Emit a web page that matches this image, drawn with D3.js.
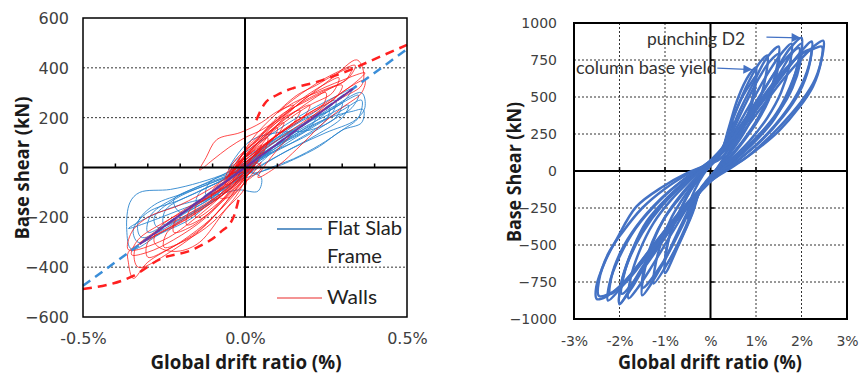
<!DOCTYPE html>
<html><head><meta charset="utf-8">
<script src="https://cdn.jsdelivr.net/npm/d3@7"></script>
<style>body{margin:0;background:#fff}svg{display:block}</style>
</head><body>
<svg id="c" width="859" height="376"></svg>
<script>
// ---------- LEFT PANEL DATA ----------
const leftXTicks = [-0.5, 0, 0.5];
const leftXLabels = ["-0.5%", "0.0%", "0.5%"];
const leftXMinor = [-0.4, -0.3, -0.2, -0.1, 0.1, 0.2, 0.3, 0.4];
const leftYTicks = [600, 400, 200, 0, -200, -400, -600];
const leftGrid = [400, 200, -200, -400];

// Flat slab frame hysteresis loops [drift %, shear kN]
const flatSlabLoops = [
  [[-0.35,-328],[-0.365,-250],[-0.355,-140],[-0.325,-100],[-0.23,-88],[-0.14,-60],[-0.05,-20],[0.02,20],[-0.01,-30],[-0.08,-100],[-0.16,-200],[-0.26,-265]],
  [[0.36,300],[0.37,240],[0.34,190],[0.25,140],[0.15,80],[0.05,10],[-0.02,-40],[0.0,0],[0.08,90],[0.18,170],[0.28,250]],
  [[0.365,232],[0.36,180],[0.3,150],[0.23,85],[0.15,32],[0.1,5],[0.02,-20],[0.05,40],[0.15,130],[0.26,200],[0.33,225]],
  [[0.33,315],[0.3,260],[0.2,190],[0.1,120],[0.0,40],[-0.05,0],[0.0,60],[0.1,150],[0.2,230],[0.28,285]],
  [[-0.33,-300],[-0.345,-250],[-0.3,-180],[-0.2,-130],[-0.1,-70],[0.0,0],[0.05,50],[0.02,0],[-0.08,-120],[-0.18,-200],[-0.27,-270]],
  [[-0.3,-260],[-0.29,-190],[-0.2,-110],[-0.1,-50],[0.0,20],[0.05,60],[0.0,-20],[-0.1,-110],[-0.2,-190]],
  [[-0.25,-230],[-0.245,-170],[-0.15,-100],[-0.05,-40],[0.03,30],[0.0,-10],[-0.1,-120],[-0.18,-180]],
  [[0.28,270],[0.27,220],[0.2,160],[0.1,90],[0.0,20],[-0.04,-30],[0.02,40],[0.1,130],[0.2,210]],
  [[0.22,210],[0.2,160],[0.12,100],[0.04,30],[-0.02,-20],[0.04,60],[0.12,140],[0.18,190]],
  [[0.15,150],[0.13,110],[0.06,50],[0.0,0],[-0.04,-40],[0.0,20],[0.08,100]],
  [[-0.15,-140],[-0.14,-100],[-0.07,-50],[0.0,10],[0.04,40],[0.0,-20],[-0.08,-100]],
  [[-0.2,-180],[-0.22,-130],[-0.15,-80],[-0.05,-30],[0.05,40],[0.08,70],[0.03,20],[-0.06,-80],[-0.14,-150]],
  [[0.3,260],[0.28,200],[0.2,150],[0.1,140],[0.02,110],[-0.03,40],[-0.05,-10],[0.0,20],[0.1,90],[0.2,170]],
  [[0.36,270],[0.35,200],[0.3,150],[0.23,90],[0.15,35],[0.08,0],[0.0,-40],[0.03,10],[0.12,90],[0.22,170],[0.3,230]],
  [[0.04,-95],[-0.02,-90],[-0.1,-110],[-0.06,-60],[0.0,-20],[0.05,-40]],
  [[-0.36,-245],[-0.3,-220],[-0.2,-170],[-0.1,-120],[-0.2,-150],[-0.3,-200]],
  [[0.32,250],[0.3,200],[0.22,130],[0.12,60],[0.03,-10],[-0.03,-60],[0.0,0],[0.08,80],[0.18,160],[0.27,220]],
  [[-0.32,-280],[-0.33,-220],[-0.28,-150],[-0.18,-100],[-0.08,-50],[0.02,10],[-0.02,-40],[-0.1,-130],[-0.2,-210]],
  [[-0.27,-240],[-0.28,-200],[-0.22,-130],[-0.12,-70],[-0.02,-20],[0.03,20],[-0.05,-90],[-0.15,-170]],
  [[0.26,240],[0.25,190],[0.16,110],[0.06,40],[-0.02,-30],[0.02,30],[0.1,110],[0.2,190]],
  [[-0.12,-110],[-0.11,-60],[-0.04,-20],[0.04,30],[0.08,60],[0.03,0],[-0.05,-70]],
  [[0.35,290],[0.33,240],[0.27,190],[0.18,120],[0.08,60],[0.0,0],[0.04,60],[0.14,140],[0.25,220]]
];

// Walls hysteresis loops [drift %, shear kN]
const wallLoops = [
  [[0.345,432],[0.365,390],[0.36,330],[0.3,280],[0.2,200],[0.1,110],[0.0,20],[-0.05,-40],[0.0,40],[0.08,160],[0.18,270],[0.27,360]],
  [[0.37,380],[0.33,330],[0.25,260],[0.15,180],[0.05,80],[0.0,0],[0.05,90],[0.12,200],[0.2,290],[0.3,350]],
  [[0.3,330],[0.28,280],[0.2,220],[0.1,130],[0.0,40],[-0.05,-20],[0.0,60],[0.1,190],[0.2,280]],
  [[0.25,300],[0.24,250],[0.15,180],[0.05,80],[-0.03,0],[0.02,80],[0.1,200],[0.18,260]],
  [[0.15,250],[0.12,210],[0.05,150],[0.0,120],[-0.05,80],[-0.1,30],[-0.14,-10],[-0.12,40],[-0.087,112],[-0.015,140],[0.05,180],[0.1,225]],
  [[-0.345,-445],[-0.36,-380],[-0.36,-340],[-0.3,-290],[-0.2,-220],[-0.1,-140],[0.0,-40],[0.05,20],[0.0,-60],[-0.1,-200],[-0.2,-300],[-0.3,-380]],
  [[-0.35,-350],[-0.33,-290],[-0.25,-220],[-0.15,-150],[-0.05,-70],[0.02,0],[-0.02,-60],[-0.12,-200],[-0.22,-290],[-0.3,-340]],
  [[-0.28,-300],[-0.27,-250],[-0.2,-180],[-0.1,-100],[0.0,-20],[0.0,-80],[-0.06,-170],[-0.14,-300],[-0.2,-335],[-0.25,-330]],
  [[-0.22,-260],[-0.21,-200],[-0.14,-140],[-0.05,-60],[0.02,20],[-0.02,-50],[-0.1,-170],[-0.17,-240]],
  [[-0.15,-200],[-0.15,-150],[-0.08,-90],[0.0,-10],[0.04,30],[0.0,-40],[-0.08,-140]],
  [[0.2,250],[0.18,200],[0.1,130],[0.02,40],[-0.04,-30],[0.0,40],[0.08,150],[0.15,220]],
  [[0.1,160],[0.09,120],[0.04,60],[-0.02,-10],[-0.06,-60],[-0.02,20],[0.05,110]],
  [[-0.1,-130],[-0.1,-90],[-0.04,-40],[0.02,20],[0.05,60],[0.01,0],[-0.05,-90]],
  [[0.33,400],[0.31,350],[0.26,320],[0.2,290],[0.15,260],[0.1,220],[0.16,290],[0.22,330],[0.28,375]],
  [[0.37,350],[0.36,300],[0.3,240],[0.23,165],[0.19,112],[0.1,5],[0.04,-40],[0.08,40],[0.15,140],[0.25,250],[0.32,320]],
  [[-0.36,-330],[-0.35,-260],[-0.3,-200],[-0.2,-150],[-0.1,-80],[-0.03,-20],[-0.05,-80],[-0.15,-200],[-0.25,-290]],
  [[0.05,90],[0.03,40],[-0.01,0],[-0.05,-50],[-0.03,0],[0.01,50]],
  [[-0.06,-70],[-0.05,-30],[0.0,20],[0.06,70],[0.04,30],[0.0,-20]],
  [[0.34,410],[0.32,360],[0.24,300],[0.14,210],[0.04,100],[-0.02,20],[0.02,110],[0.1,220],[0.2,320],[0.28,380]],
  [[0.29,360],[0.27,300],[0.2,250],[0.12,180],[0.03,80],[-0.03,0],[0.0,70],[0.08,170],[0.17,270],[0.24,330]],
  [[-0.33,-400],[-0.34,-330],[-0.28,-260],[-0.18,-190],[-0.08,-110],[0.0,-30],[-0.03,-90],[-0.12,-230],[-0.22,-330]],
  [[-0.3,-360],[-0.3,-300],[-0.22,-230],[-0.12,-150],[-0.02,-50],[0.03,10],[-0.04,-110],[-0.14,-250],[-0.24,-330]],
  [[-0.25,-320],[-0.24,-260],[-0.17,-200],[-0.08,-120],[0.0,-40],[-0.02,-100],[-0.1,-220],[-0.18,-290]],
  [[0.17,230],[0.15,180],[0.08,110],[0.0,30],[-0.05,-30],[-0.01,50],[0.06,140],[0.12,200]],
  [[-0.18,-230],[-0.17,-170],[-0.1,-110],[-0.02,-40],[0.03,10],[-0.01,-60],[-0.09,-160],[-0.14,-210]],
  [[0.07,120],[0.06,70],[0.02,20],[-0.04,-40],[-0.08,-90],[-0.05,-30],[0.01,50]],
  [[0.12,180],[0.1,130],[0.05,80],[-0.01,20],[-0.06,-40],[-0.03,30],[0.04,110]],
  [[-0.04,-60],[-0.08,-120],[-0.05,-120],[0.0,-60],[0.05,0],[0.03,20]]
];

const wallEnvelopeUpper = [[0.035,190],[0.06,255],[0.1,292],[0.15,319],[0.21,339],[0.3,379],[0.417,445],[0.5,492]];
const wallEnvelopeLower = [[-0.5,-488],[-0.345,-435],[-0.262,-368],[-0.159,-328],[-0.077,-261],[-0.036,-201],[-0.02,-130]];
const frameTrend = [[-0.5,-475],[0.5,475]];
const frameFit = [[-0.325,-308],[0.333,316]];

// ---------- RIGHT PANEL DATA ----------
const rightXTicks = [-3, -2, -1, 0, 1, 2, 3];
const rightXLabels = ["-3%", "-2%", "-1%", "%", "1%", "2%", "3%"];
const rightYTicks = [1000, 750, 500, 250, 0, -250, -500, -750, -1000];
const rightGridX = [-2, -1, 1, 2];
const rightGridY = [750, 500, 250, -250, -500, -750];

const cyclicLoops = [
  [[0.5,330],[0.48,250],[0.35,130],[0.15,20],[-0.1,-70],[-0.3,-170],[-0.5,-320],[-0.48,-240],[-0.35,-130],[-0.15,-20],[0.1,70],[0.3,170]],
  [[1.0,700],[0.98,600],[0.88,440],[0.7,290],[0.45,140],[0.2,30],[0.0,-50],[-0.2,-110],[-0.4,-290],[-0.7,-500],[-1.0,-690],[-1.0,-600],[-0.9,-440],[-0.7,-290],[-0.45,-140],[-0.2,-30],[0.0,50],[0.2,100],[0.4,290],[0.6,490],[0.85,650]],
  [[1.0,640],[0.97,540],[0.85,390],[0.65,250],[0.4,120],[0.15,20],[-0.05,-60],[-0.25,-150],[-0.45,-320],[-0.75,-520],[-1.0,-640],[-0.98,-550],[-0.85,-390],[-0.65,-250],[-0.4,-110],[-0.15,-10],[0.05,60],[0.25,140],[0.45,320],[0.7,500],[0.9,600]],
  [[1.25,780],[1.22,650],[1.08,480],[0.85,320],[0.55,170],[0.25,50],[-0.05,-60],[-0.3,-180],[-0.55,-380],[-0.9,-600],[-1.25,-760],[-1.22,-650],[-1.08,-480],[-0.85,-310],[-0.55,-160],[-0.25,-40],[0.05,60],[0.3,180],[0.55,400],[0.85,610],[1.1,740]],
  [[1.5,840],[1.47,720],[1.3,530],[1.05,360],[0.7,200],[0.35,70],[0.0,-60],[-0.3,-160],[-0.6,-360],[-1.0,-600],[-1.3,-760],[-1.5,-840],[-1.48,-720],[-1.32,-530],[-1.05,-340],[-0.7,-190],[-0.35,-60],[0.0,60],[0.3,150],[0.6,380],[0.95,600],[1.25,770]],
  [[1.5,790],[1.46,660],[1.28,480],[1.0,320],[0.65,170],[0.3,40],[-0.05,-70],[-0.35,-190],[-0.7,-400],[-1.05,-620],[-1.5,-790],[-1.46,-660],[-1.28,-480],[-1.0,-310],[-0.65,-160],[-0.3,-40],[0.05,70],[0.35,190],[0.7,410],[1.05,620],[1.3,740]],
  [[1.78,860],[1.74,720],[1.55,530],[1.25,360],[0.85,200],[0.4,60],[0.0,-70],[-0.4,-200],[-0.85,-420],[-1.3,-650],[-1.6,-790],[-1.8,-860],[-1.76,-730],[-1.56,-540],[-1.25,-350],[-0.85,-190],[-0.4,-50],[0.0,70],[0.4,210],[0.85,440],[1.3,680],[1.6,810]],
  [[2.0,900],[1.96,760],[1.75,570],[1.45,390],[1.0,220],[0.5,70],[0.0,-60],[-0.4,-190],[-0.9,-400],[-1.4,-620],[-1.75,-800],[-2.0,-895],[-1.97,-770],[-1.78,-580],[-1.45,-380],[-1.0,-200],[-0.5,-60],[0.0,60],[0.4,190],[0.9,420],[1.4,660],[1.75,830]],
  [[1.95,830],[1.9,700],[1.7,520],[1.4,350],[0.95,190],[0.45,50],[-0.05,-80],[-0.5,-230],[-1.0,-450],[-1.45,-650],[-1.95,-830],[-1.9,-700],[-1.7,-520],[-1.4,-340],[-0.95,-180],[-0.45,-40],[0.05,80],[0.5,240],[1.0,460],[1.45,680],[1.75,790]],
  [[2.0,860],[1.97,730],[1.8,560],[1.5,400],[1.05,240],[0.55,90],[0.05,-40],[-0.45,-200],[-1.0,-430],[-1.5,-650],[-2.0,-900],[-1.98,-790],[-1.82,-620],[-1.5,-420],[-1.05,-230],[-0.55,-80],[-0.05,40],[0.45,180],[1.0,420],[1.5,650],[1.8,800]],
  [[2.22,875],[2.2,760],[2.0,580],[1.65,400],[1.15,220],[0.6,70],[0.0,-70],[-0.5,-220],[-1.1,-440],[-1.6,-640],[-2.0,-800],[-2.25,-875],[-2.22,-760],[-2.0,-580],[-1.65,-390],[-1.15,-210],[-0.6,-60],[0.0,70],[0.5,220],[1.1,450],[1.6,650],[2.0,810]],
  [[2.2,820],[2.16,700],[1.95,530],[1.6,370],[1.1,200],[0.55,60],[0.0,-60],[-0.5,-210],[-1.05,-420],[-1.55,-620],[-1.95,-770],[-2.2,-830],[-2.18,-720],[-1.98,-550],[-1.62,-370],[-1.1,-190],[-0.55,-50],[0.0,70],[0.55,230],[1.1,460],[1.6,660],[1.95,780]],
  [[2.48,880],[2.47,800],[2.3,620],[2.02,480],[1.52,300],[1.15,188],[0.71,74],[0.27,7],[0.0,-60],[-0.5,-230],[-1.0,-420],[-1.5,-610],[-2.0,-780],[-2.3,-850],[-2.5,-865],[-2.51,-782],[-2.3,-600],[-2.07,-466],[-1.63,-241],[-1.05,-106],[-0.53,-16],[-0.17,29],[0.2,80],[0.6,220],[1.1,420],[1.6,620],[2.0,760],[2.3,850]],
  [[2.45,840],[2.43,740],[2.25,570],[1.95,430],[1.5,270],[1.0,140],[0.5,30],[0.0,-70],[-0.5,-240],[-1.0,-430],[-1.5,-620],[-2.0,-790],[-2.45,-845],[-2.45,-740],[-2.25,-560],[-1.95,-420],[-1.5,-250],[-1.0,-120],[-0.5,-20],[0.0,60],[0.5,230],[1.0,440],[1.5,640],[2.0,790],[2.3,830]]
];

const annotations = [
  {text: "punching D2", tx: 647, ty: 39, w: 98, from: [1.23, 905], to: [1.98, 900]},
  {text: "column base yield", tx: 576, ty: 68, w: 141, from: [0.15, 695], to: [0.92, 685]}
];

// ---------- DRAW ----------
const svg = d3.select("#c");
const tickFont = "DejaVu Sans, sans-serif";
const titleFont = "Open Sans, sans-serif";
const labelFont = "Lato, sans-serif";

svg.append("defs").append("marker")
  .attr("id","arr").attr("viewBox","0 0 10 10").attr("refX",10).attr("refY",5)
  .attr("markerWidth",12).attr("markerHeight",9).attr("markerUnits","userSpaceOnUse")
  .attr("orient","auto")
  .append("path").attr("d","M0,0L10,5L0,10Z").attr("fill","#4472C4");

// LEFT
const xL = d3.scaleLinear().domain([-0.5, 0.5]).range([83, 407]);
const yL = d3.scaleLinear().domain([-600, 600]).range([317, 18]);
const gL = svg.append("g");

gL.selectAll("line.grid").data(leftGrid).enter().append("line")
  .attr("x1", xL(-0.5)).attr("x2", xL(0.5)).attr("y1", d=>yL(d)).attr("y2", d=>yL(d))
  .attr("stroke","#333").attr("stroke-width",1).attr("stroke-dasharray","2,2");

const loopLine = d3.line().x(d=>xL(d[0])).y(d=>yL(d[1])).curve(d3.curveCatmullRomClosed.alpha(0.5));
gL.selectAll("path.fs").data(flatSlabLoops).enter().append("path")
  .attr("d", loopLine).attr("fill","none").attr("stroke","#2E86CE").attr("stroke-width",1).attr("stroke-opacity",0.9);
gL.selectAll("path.w").data(wallLoops).enter().append("path")
  .attr("d", loopLine).attr("fill","none").attr("stroke","#FF1010").attr("stroke-width",1).attr("stroke-opacity",0.75);

const openLine = d3.line().x(d=>xL(d[0])).y(d=>yL(d[1])).curve(d3.curveMonotoneX);
gL.append("path").attr("d", openLine(frameTrend)).attr("fill","none")
  .attr("stroke","#3B8ED8").attr("stroke-width",2.5).attr("stroke-dasharray","9,6");
gL.append("path").attr("d", openLine(wallEnvelopeUpper)).attr("fill","none")
  .attr("stroke","#FF2020").attr("stroke-width",2.5).attr("stroke-dasharray","9,6");
gL.append("path").attr("d", openLine(wallEnvelopeLower)).attr("fill","none")
  .attr("stroke","#FF2020").attr("stroke-width",2.5).attr("stroke-dasharray","9,6");
gL.append("path").attr("d", openLine(frameFit)).attr("fill","none")
  .attr("stroke","#7030A0").attr("stroke-width",2);

// zero axes
gL.append("line").attr("x1",xL(0)).attr("x2",xL(0)).attr("y1",yL(600)).attr("y2",yL(-600)).attr("stroke","#000").attr("stroke-width",2);
gL.append("line").attr("x1",xL(-0.5)).attr("x2",xL(0.5)).attr("y1",yL(0)).attr("y2",yL(0)).attr("stroke","#000").attr("stroke-width",2);
gL.selectAll("line.xm").data(leftXMinor).enter().append("line")
  .attr("x1",d=>xL(d)).attr("x2",d=>xL(d)).attr("y1",yL(0)).attr("y2",yL(0)-4).attr("stroke","#000").attr("stroke-width",1.5);
gL.selectAll("line.ym").data(leftGrid).enter().append("line")
  .attr("x1",xL(0)).attr("x2",xL(0)+4).attr("y1",d=>yL(d)).attr("y2",d=>yL(d)).attr("stroke","#000").attr("stroke-width",1.5);
gL.append("rect").attr("x",83).attr("y",18).attr("width",324).attr("height",299)
  .attr("fill","none").attr("stroke","#000").attr("stroke-width",1.5);

const axYL = gL.append("g").attr("transform","translate(69,0)")
  .call(d3.axisLeft(yL).tickValues(leftYTicks).tickSize(0).tickPadding(0).tickFormat(d3.format("d")));
axYL.select(".domain").remove();
axYL.selectAll("text").attr("font-family",tickFont).attr("font-size",16).attr("fill","#404040").attr("dy","0.35em");

const axXL = gL.append("g").attr("transform","translate(0,333)")
  .call(d3.axisBottom(xL).tickValues(leftXTicks).tickSize(0).tickPadding(0).tickFormat((d,i)=>leftXLabels[i]));
axXL.select(".domain").remove();
axXL.selectAll("text").attr("font-family",tickFont).attr("font-size",16).attr("fill","#404040");

gL.append("text").attr("x",246).attr("y",369).attr("text-anchor","middle")
  .attr("font-family",titleFont).attr("font-weight",700).attr("font-size",19).attr("fill","#1a1a1a")
  .attr("textLength",191).attr("lengthAdjust","spacingAndGlyphs").text("Global drift ratio (%)");
gL.append("text").attr("transform","translate(29,168) rotate(-90)").attr("text-anchor","middle")
  .attr("font-family",titleFont).attr("font-weight",700).attr("font-size",19).attr("fill","#1a1a1a")
  .attr("textLength",143).attr("lengthAdjust","spacingAndGlyphs").text("Base shear (kN)");

// legend
gL.append("line").attr("x1",277).attr("x2",322).attr("y1",229).attr("y2",229).attr("stroke","#2E75B6").attr("stroke-width",1.3);
gL.append("line").attr("x1",277).attr("x2",322).attr("y1",298).attr("y2",298).attr("stroke","#F07070").attr("stroke-width",1.6);
[["Flat Slab",235,75],["Frame",263,55],["Walls",304,50]].forEach(([t,y,w])=>{
  gL.append("text").attr("x",327).attr("y",y).attr("font-family",labelFont).attr("font-size",20).attr("fill","#222")
    .attr("textLength",w).attr("lengthAdjust","spacingAndGlyphs").text(t);
});

// RIGHT
const xR = d3.scaleLinear().domain([-3, 3]).range([574, 847]);
const yR = d3.scaleLinear().domain([-1000, 1000]).range([319, 23]);
const gR = svg.append("g");

gR.selectAll("line.gx").data(rightGridX).enter().append("line")
  .attr("x1",d=>xR(d)).attr("x2",d=>xR(d)).attr("y1",yR(1000)).attr("y2",yR(-1000))
  .attr("stroke","#333").attr("stroke-width",1).attr("stroke-dasharray","2,2");
gR.selectAll("line.gy").data(rightGridY).enter().append("line")
  .attr("x1",xR(-3)).attr("x2",xR(3)).attr("y1",d=>yR(d)).attr("y2",d=>yR(d))
  .attr("stroke","#333").attr("stroke-width",1).attr("stroke-dasharray","2,2");

gR.append("line").attr("x1",xR(0)).attr("x2",xR(0)).attr("y1",yR(1000)).attr("y2",yR(-1000)).attr("stroke","#000").attr("stroke-width",2);
gR.append("line").attr("x1",xR(-3)).attr("x2",xR(3)).attr("y1",yR(0)).attr("y2",yR(0)).attr("stroke","#000").attr("stroke-width",2);
gR.selectAll("line.xt").data(rightGridX).enter().append("line")
  .attr("x1",d=>xR(d)).attr("x2",d=>xR(d)).attr("y1",yR(0)).attr("y2",yR(0)-4).attr("stroke","#000").attr("stroke-width",1.5);
gR.selectAll("line.yt").data(rightGridY).enter().append("line")
  .attr("x1",xR(0)).attr("x2",xR(0)+4).attr("y1",d=>yR(d)).attr("y2",d=>yR(d)).attr("stroke","#000").attr("stroke-width",1.5);

const loopR = d3.line().x(d=>xR(d[0])).y(d=>yR(d[1])).curve(d3.curveCatmullRomClosed.alpha(0.5));
gR.selectAll("path.cl").data(cyclicLoops).enter().append("path")
  .attr("d", loopR).attr("fill","none").attr("stroke","#4472C4").attr("stroke-width",2.5);

gR.append("rect").attr("x",574).attr("y",23).attr("width",273).attr("height",296)
  .attr("fill","none").attr("stroke","#000").attr("stroke-width",2);

const axYR = gR.append("g").attr("transform","translate(557,0)")
  .call(d3.axisLeft(yR).tickValues(rightYTicks).tickSize(0).tickPadding(0).tickFormat(d3.format("d")));
axYR.select(".domain").remove();
axYR.selectAll("text").attr("font-family",tickFont).attr("font-size",14).attr("fill","#404040").attr("dy","0.35em");

const axXR = gR.append("g").attr("transform","translate(0,336)")
  .call(d3.axisBottom(xR).tickValues(rightXTicks).tickSize(0).tickPadding(0).tickFormat((d,i)=>rightXLabels[i]));
axXR.select(".domain").remove();
axXR.selectAll("text").attr("font-family",tickFont).attr("font-size",14).attr("fill","#404040");

gR.append("text").attr("x",710).attr("y",369).attr("text-anchor","middle")
  .attr("font-family",titleFont).attr("font-weight",700).attr("font-size",19).attr("fill","#1a1a1a")
  .attr("textLength",184).attr("lengthAdjust","spacingAndGlyphs").text("Global drift ratio (%)");
gR.append("text").attr("transform","translate(521,172) rotate(-90)").attr("text-anchor","middle")
  .attr("font-family",titleFont).attr("font-weight",700).attr("font-size",19).attr("fill","#1a1a1a")
  .attr("textLength",140).attr("lengthAdjust","spacingAndGlyphs").text("Base Shear (kN)");

annotations.forEach(a=>{
  gR.append("text").attr("x",a.tx).attr("y",a.ty).attr("dy","0.35em")
    .attr("font-family",labelFont).attr("font-size",18).attr("fill","#333")
    .attr("textLength",a.w).attr("lengthAdjust","spacingAndGlyphs").text(a.text);
  gR.append("line").attr("x1",xR(a.from[0])).attr("y1",yR(a.from[1])).attr("x2",xR(a.to[0])).attr("y2",yR(a.to[1]))
    .attr("stroke","#4472C4").attr("stroke-width",1.3).attr("marker-end","url(#arr)");
});
</script>
</body></html>
